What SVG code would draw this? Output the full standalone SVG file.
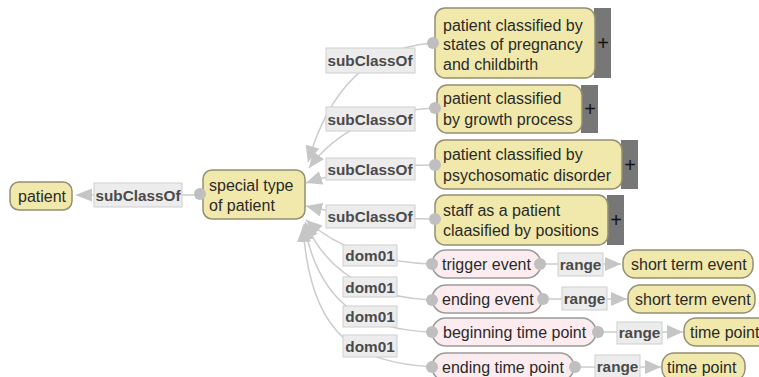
<svg xmlns="http://www.w3.org/2000/svg" width="759" height="377" viewBox="0 0 759 377">
<style>
  .cls rect.n { fill: #f1e9ab; stroke: #948f72; stroke-width: 1.5; }
  .prop rect.n { fill: #fcecef; stroke: #9a9a9a; stroke-width: 1.5; }
  .plus { fill: #777777; }
  .pt { font-family: "Liberation Sans", Arial, sans-serif; font-size: 20px; fill: #111; text-anchor: middle; }
  .t { font-family: "Liberation Sans", Arial, sans-serif; font-size: 16px; fill: #2a2a2a; }
  .lbl rect { fill: #ececec; stroke: #cfcfcf; stroke-width: 1; }
  .lbl text { font-family: "Liberation Sans", Arial, sans-serif; font-size: 15.3px; font-weight: bold; fill: #4a4a4a; text-anchor: middle; }
  .e { fill: none; stroke: #cccccc; stroke-width: 1.5; }
  .ah { fill: #c6c6c6; }
  .dot { fill: #bfbfbf; }
</style>
<defs>
  <marker id="arr" markerUnits="userSpaceOnUse" markerWidth="17" markerHeight="14" refX="16" refY="7" orient="auto">
    <path d="M0,0 L16,7 L0,14 Z" fill="#c6c6c6"/>
  </marker>
</defs>
<rect width="759" height="377" fill="#ffffff"/>

<g id="connectors">
  <line class="e" x1="200" y1="195" x2="90" y2="195"/>
  <polygon class="ah" points="75,195 92,188.5 92,201.5"/>
  <path class="e" d="M433,43 Q340,50 308,162" marker-end="url(#arr)"/>
  <path class="e" d="M435,108 Q350,112 309,168" marker-end="url(#arr)"/>
  <path class="e" d="M435,165 Q360,165 306,183" marker-end="url(#arr)"/>
  <path class="e" d="M435,219 Q360,219 306,206" marker-end="url(#arr)"/>
  <path class="e" d="M432,264 C380,262 340,250 306,220" marker-end="url(#arr)"/>
  <path class="e" d="M432,300 C380,298 330,280 305,222" marker-end="url(#arr)"/>
  <path class="e" d="M432,332 C370,330 320,310 304,224" marker-end="url(#arr)"/>
  <path class="e" d="M432,367 C360,362 310,340 303,226" marker-end="url(#arr)"/>
  <path class="e" d="M540,264 L621,264" marker-end="url(#arr)"/>
  <path class="e" d="M543,299 L627,299" marker-end="url(#arr)"/>
  <path class="e" d="M598,332 L683,332" marker-end="url(#arr)"/>
  <path class="e" d="M575,367 L661,367" marker-end="url(#arr)"/>

  <g class="lbl">
    <rect x="94" y="183" width="88" height="24"/><text x="138" y="200.5">subClassOf</text>
    <rect x="326" y="48" width="89" height="25"/><text x="370" y="66">subClassOf</text>
    <rect x="326" y="107" width="89" height="24"/><text x="370" y="124.5">subClassOf</text>
    <rect x="326" y="158" width="89" height="22"/><text x="370" y="174.5">subClassOf</text>
    <rect x="326" y="205" width="89" height="23"/><text x="370" y="222">subClassOf</text>
    <rect x="343" y="245" width="54" height="21"/><text x="370" y="261">dom01</text>
    <rect x="343" y="277" width="54" height="20"/><text x="370" y="292.5">dom01</text>
    <rect x="343" y="306" width="54" height="21"/><text x="370" y="322">dom01</text>
    <rect x="343" y="335" width="54" height="22"/><text x="370" y="351.5">dom01</text>
    <rect x="558" y="253" width="45" height="23"/><text x="580.5" y="269.5">range</text>
    <rect x="562" y="287" width="45" height="23"/><text x="584.5" y="304">range</text>
    <rect x="617" y="322" width="45" height="22"/><text x="639.5" y="338">range</text>
    <rect x="595" y="355" width="45" height="23"/><text x="617.5" y="372">range</text>
  </g>
</g>

<g id="patient" class="cls">
  <rect class="n" x="10" y="182" width="62" height="28" rx="9"/>
  <text class="t" x="18" y="202">patient</text>
</g>

<g id="special-type" class="cls">
  <rect class="n" x="203" y="170" width="102" height="49" rx="9"/>
  <text class="t" x="209" y="190.5">special type</text>
  <text class="t" x="209" y="210.5">of patient</text>
  <circle class="dot" cx="200" cy="194" r="6"/>
</g>

<g id="pregnancy" class="cls">
  <rect class="plus" x="594" y="8" width="17" height="70"/>
  <text class="pt" x="603" y="50">+</text>
  <rect class="n" x="435" y="8" width="160" height="70" rx="10"/>
  <text class="t" x="443" y="30.5">patient classified by</text>
  <text class="t" x="443" y="50">states of pregnancy</text>
  <text class="t" x="443" y="70">and childbirth</text>
  <circle class="dot" cx="433" cy="43" r="6"/>
</g>

<g id="growth" class="cls">
  <rect class="plus" x="581" y="85" width="17" height="48"/>
  <text class="pt" x="590" y="116">+</text>
  <rect class="n" x="437" y="85" width="145" height="48" rx="10"/>
  <text class="t" x="443" y="103.5">patient classified</text>
  <text class="t" x="443" y="124.5">by growth process</text>
  <circle class="dot" cx="435" cy="108" r="6"/>
</g>

<g id="psychosomatic" class="cls">
  <rect class="plus" x="621" y="140" width="17" height="49"/>
  <text class="pt" x="630" y="172">+</text>
  <rect class="n" x="435" y="140" width="187" height="49" rx="10"/>
  <text class="t" x="443" y="160">patient classified by</text>
  <text class="t" x="443" y="181">psychosomatic disorder</text>
  <circle class="dot" cx="435" cy="165" r="6"/>
</g>

<g id="staff" class="cls">
  <rect class="plus" x="607" y="195" width="17" height="50"/>
  <text class="pt" x="616" y="227">+</text>
  <rect class="n" x="435" y="195" width="173" height="50" rx="10"/>
  <text class="t" x="443" y="215.5">staff as a patient</text>
  <text class="t" x="443" y="236">claasified by positions</text>
  <circle class="dot" cx="435" cy="219" r="6"/>
</g>

<g id="trigger-event" class="prop">
  <rect class="n" x="432" y="250" width="109" height="28" rx="14"/>
  <text class="t" x="442" y="269.5">trigger event</text>
  <circle class="dot" cx="432" cy="264" r="6"/>
  <circle class="dot" cx="540" cy="264" r="6"/>
</g>

<g id="ending-event" class="prop">
  <rect class="n" x="432" y="285" width="110" height="28" rx="14"/>
  <text class="t" x="442" y="304.5">ending event</text>
  <circle class="dot" cx="432" cy="300" r="6"/>
  <circle class="dot" cx="543" cy="299" r="6"/>
</g>

<g id="beginning-time-point" class="prop">
  <rect class="n" x="432" y="318" width="164" height="28" rx="14"/>
  <text class="t" x="443" y="337.5">beginning time point</text>
  <circle class="dot" cx="432" cy="332" r="6"/>
  <circle class="dot" cx="598" cy="332" r="6"/>
</g>

<g id="ending-time-point" class="prop">
  <rect class="n" x="432" y="353" width="142" height="28" rx="14"/>
  <text class="t" x="442" y="372.5">ending time point</text>
  <circle class="dot" cx="432" cy="367" r="6"/>
  <circle class="dot" cx="575" cy="367" r="6"/>
</g>

<g id="short-term-event-1" class="cls">
  <rect class="n" x="623" y="250" width="130" height="28" rx="12"/>
  <text class="t" x="631" y="269.5">short term event</text>
</g>

<g id="short-term-event-2" class="cls">
  <rect class="n" x="628" y="285" width="127" height="28" rx="12"/>
  <text class="t" x="635" y="304.5">short term event</text>
</g>

<g id="time-point-1" class="cls">
  <rect class="n" x="684" y="318" width="90" height="28" rx="12"/>
  <text class="t" x="690" y="337.5">time point</text>
</g>

<g id="time-point-2" class="cls">
  <rect class="n" x="662" y="353" width="83" height="28" rx="12"/>
  <text class="t" x="667" y="372.5">time point</text>
</g>
</svg>
